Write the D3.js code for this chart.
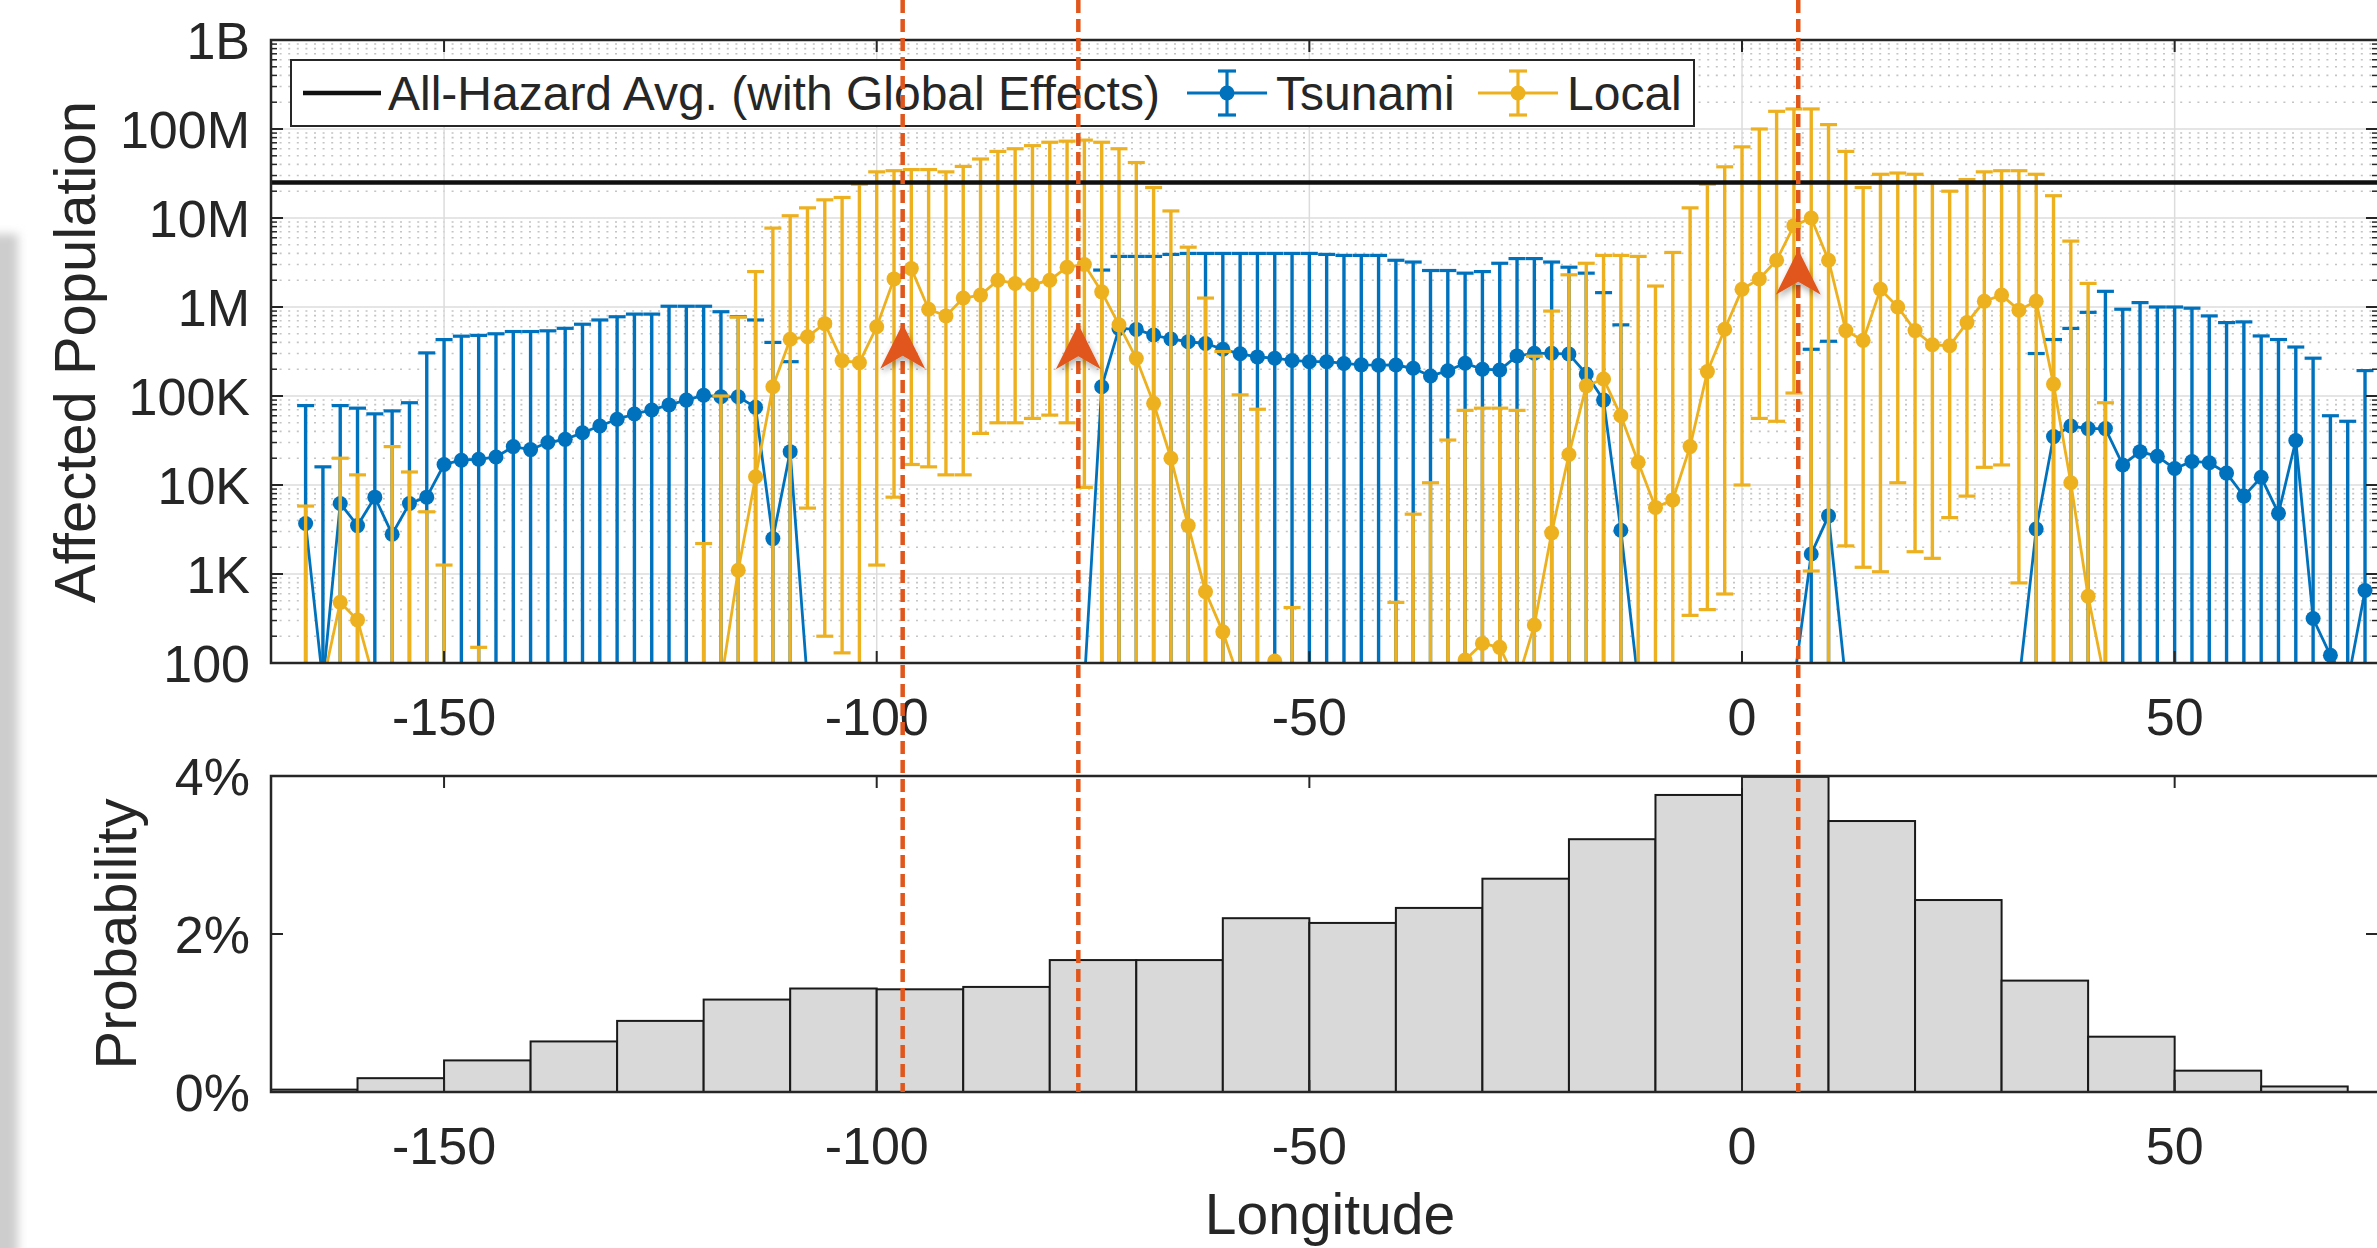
<!DOCTYPE html>
<html>
<head>
<meta charset="utf-8">
<script src="https://cdn.jsdelivr.net/npm/d3@7"></script>
<style>
  html, body { margin: 0; padding: 0; background: #fff; }
  svg { display: block; }
  text { font-family: "Liberation Sans", Arial, Helvetica, sans-serif; fill: #262626; }
</style>
</head>
<body>
<div id="chart"></div>
<script>
// Longitude of every sample (degrees)
var lon = [-166,-164,-162,-160,-158,-156,-154,-152,-150,-148,-146,-144,-142,-140,-138,-136,-134,-132,-130,-128,
  -126,-124,-122,-120,-118,-116,-114,-112,-110,-108,-106,-104,-102,-100,-98,-96,-94,-92,-90,-88,
  -86,-84,-82,-80,-78,-76,-74,-72,-70,-68,-66,-64,-62,-60,-58,-56,-54,-52,-50,-48,
  -46,-44,-42,-40,-38,-36,-34,-32,-30,-28,-26,-24,-22,-20,-18,-16,-14,-12,-10,-8,
  -6,-4,-2,0,2,4,6,8,10,12,14,16,18,20,22,24,26,28,30,32,
  34,36,38,40,42,44,46,48,50,52,54,56,58,60,62,64,66,68,70,72];

// Tsunami: mean, upper and lower bound (values under 100 sit below the axis)
var tsuMean = [3700,60,6200,3500,7300,2800,6200,7300,17000,19000,19500,20600,27000,25000,30000,32600,38700,46000,54700,62800,
  69700,79400,90000,102000,98000,98000,74600,2500,23700,60,60,60,60,60,60,60,60,60,60,60,
  60,60,60,60,60,60,127000,575000,560000,484000,437000,407000,389000,335000,298000,275000,266000,251000,243000,243000,
  232000,224000,222000,223000,205000,168000,192000,233000,200000,196000,282000,302000,302000,296000,177000,90000,3100,60,60,60,
  60,60,60,60,60,60,60,1680,4500,60,60,60,60,60,60,60,60,60,60,60,
  3200,35000,46000,43000,43000,16800,23700,21000,15300,18400,17800,13600,7500,12200,4800,31600,316,122,60,653];
var tsuUp = [78000,16000,78000,73000,63000,68000,84000,305000,430000,470000,480000,500000,530000,530000,540000,576000,640000,715000,777000,832000,
  832000,1020000,1020000,1020000,885000,780000,715000,400000,243000,60,60,60,60,60,60,60,60,60,60,60,
  60,60,60,60,60,60,2600000,3700000,3700000,3700000,3900000,4000000,4000000,4000000,4000000,4000000,4000000,4000000,4000000,3900000,
  3800000,3800000,3800000,3350000,3200000,2570000,2570000,2400000,2500000,3100000,3500000,3500000,3200000,2800000,2400000,1450000,630000,60,60,60,
  60,60,60,60,60,60,60,335000,412000,60,60,60,60,60,60,60,60,60,60,60,
  300000,431000,575000,871000,1500000,944000,1120000,1000000,1000000,970000,794000,668000,680000,473000,431000,355000,266000,60000,52000,193000];
var tsuLow = [1,1,1,1,1,1,1,1,1,1,1,1,1,1,1,1,1,1,1,1,
  1,1,1,1,1,1,1,1,1,1,1,1,1,1,1,1,1,1,1,1,
  1,1,1,1,1,1,1,1,1,1,1,1,1,1,1,1,1,1,1,1,
  1,1,1,1,1,1,1,1,1,1,1,1,1,1,1,1,1,1,1,1,
  1,1,1,1,1,1,1,1,1,1,1,1,1,1,1,1,1,1,1,1,
  1,1,1,1,1,1,1,1,1,1,1,1,1,1,1,1,1,1,1,1];

// Local: mean, upper and lower bound
var locMean = [60,60,480,305,60,60,60,60,60,60,60,60,60,60,60,60,60,60,60,60,
  60,60,60,60,60,1100,12400,127000,434000,464000,650000,250000,237000,600000,2070000,2700000,945000,794000,1260000,1360000,
  2000000,1840000,1780000,2000000,2800000,3000000,1480000,630000,264000,83000,20000,3500,631,224,60,60,105,60,60,60,
  60,60,60,60,60,60,60,108,166,150,60,267,2900,22000,130000,155000,60000,18000,5600,6800,
  27000,188000,562000,1580000,2070000,3350000,8200000,10000000,3350000,543000,422000,1580000,1000000,543000,376000,367000,668000,1160000,1360000,922000,
  1160000,136000,10600,562,60,60,60,60,60,60,60,60,60,60,60,60,60,60,60,60];
var locUp = [5800,60,20000,13000,60,27000,14000,5000,1260,60,150,60,60,60,60,60,60,60,60,60,
  60,60,60,2200,100000,770000,2500000,7700000,10600000,13000000,16000000,17000000,24000000,33000000,34000000,35000000,35000000,33000000,38000000,46000000,
  56000000,60000000,65000000,71000000,73000000,75000000,71000000,60000000,42000000,22000000,12000000,4700000,1260000,316000,103000,71000,105,420,60,60,
  60,60,60,480,4700,10600,32000,69000,73000,73000,69000,280000,900000,2300000,3100000,3800000,3800000,3700000,1720000,4100000,
  13000000,24000000,37600000,63000000,100000000,158000000,168000000,168000000,112000000,56000000,22000000,31000000,32000000,31000000,25000000,20000000,27000000,33000000,34000000,34000000,
  31000000,17800000,5500000,1840000,84000,60,60,60,60,60,60,60,60,60,60,60,60,60,60,60];
var locLow = [1,1,1,1,1,1,1,1,1,1,1,1,1,1,1,1,1,1,1,1,
  1,1,1,1,1,1,1,1,1,5500,200,130,1,1260,7300,17000,16000,13000,13000,38000,
  50000,50000,56000,61000,50000,9400,1,1,1,1,1,1,1,1,1,1,1,1,1,1,
  1,1,1,1,1,1,1,1,1,1,1,1,1,1,1,1,1,1,1,1,
  343,398,596,10000,56000,52000,108000,1080,1,2070,1190,1060,10600,1780,1500,4300,7500,15800,16800,794,
  1,1,1,1,1,1,1,1,1,1,1,1,1,1,1,1,1,1,1,1];

var allHazardAvg = 25000000;

// Histogram of longitude (percent per 10-degree bin)
var histEdges = [-170,-160,-150,-140,-130,-120,-110,-100,-90,-80,-70,-60,-50,-40,-30,-20,-10,0,10,20,30,40,50,60,70];
var histProb = [0.03,0.175,0.40,0.64,0.90,1.17,1.31,1.30,1.33,1.67,1.67,2.20,2.14,2.33,2.70,3.20,3.76,3.99,3.43,2.43,1.41,0.70,0.27,0.07];

// Marked longitudes (dashed lines) and the arrow tips
var markLon = [-97, -76.7, 6.5];
var arrowTip = [650000, 640000, 4400000];

// Ticks
var xTicks = [-150, -100, -50, 0, 50];
var yTopTicks = [1e2, 1e3, 1e4, 1e5, 1e6, 1e7, 1e8, 1e9];
var yTopLabels = ["100", "1K", "10K", "100K", "1M", "10M", "100M", "1B"];
var yBotTicks = [0, 2, 4];
var yBotLabels = ["0%", "2%", "4%"];

var W = 2377, H = 1248;
var blue = "#0072BD", gold = "#EDB120", red = "#E0561B", ink = "#262626";

var svg = d3.select("#chart").append("svg")
    .attr("width", W)
    .attr("height", H);

var defs = svg.append("defs");
defs.append("clipPath").attr("id", "plotClip")
    .append("rect").attr("x", 271).attr("y", 40).attr("width", 2108).attr("height", 623);
defs.append("filter").attr("id", "soft")
    .attr("x", "-50%").attr("y", "-10%").attr("width", "200%").attr("height", "120%")
    .append("feGaussianBlur").attr("stdDeviation", 5);
var shadow = defs.append("filter").attr("id", "arrowShadow")
    .attr("x", "-50%").attr("y", "-50%").attr("width", "200%").attr("height", "200%");
shadow.append("feDropShadow").attr("dx", 1).attr("dy", 4).attr("stdDeviation", 3)
    .attr("flood-color", "#000").attr("flood-opacity", 0.3);

// grey strip at the left edge of the screenshot
svg.append("rect")
    .attr("x", -30).attr("y", 234).attr("width", 48).attr("height", H)
    .attr("fill", "#cdcdcd")
    .attr("filter", "url(#soft)");

// Scales
var x = d3.scaleLinear().domain([-170, 73.5]).range([271, 2378]);
var yTop = d3.scaleLog().domain([100, 1e9]).range([663, 40]);
var yBot = d3.scaleLinear().domain([0, 4]).range([1092, 776]);

// ---------- Top panel ----------
var topG = svg.append("g");

// minor grid (dotted)
var minorVals = [];
for (var e = 2; e < 9; e++) {
    for (var k = 2; k <= 9; k++) minorVals.push(k * Math.pow(10, e));
}
topG.selectAll("minorGrid")
    .data(minorVals)
    .enter()
    .append("line")
    .attr("x1", 271).attr("x2", 2378)
    .attr("y1", d => yTop(d)).attr("y2", d => yTop(d))
    .attr("stroke", "#c4c4c4")
    .attr("stroke-width", 1.6)
    .attr("stroke-dasharray", "2,6.6");

// major grid
topG.selectAll("majorGridY")
    .data(yTopTicks)
    .enter()
    .append("line")
    .attr("x1", 271).attr("x2", 2378)
    .attr("y1", d => yTop(d)).attr("y2", d => yTop(d))
    .attr("stroke", "#dcdcdc")
    .attr("stroke-width", 1.5);
topG.selectAll("majorGridX")
    .data(xTicks)
    .enter()
    .append("line")
    .attr("x1", d => x(d)).attr("x2", d => x(d))
    .attr("y1", 40).attr("y2", 663)
    .attr("stroke", "#dcdcdc")
    .attr("stroke-width", 1.5);

var dataG = topG.append("g").attr("clip-path", "url(#plotClip)");

function drawSeries(g, mean, low, up, color) {
    var pts = lon.map((L, i) => ({L: L, m: mean[i], lo: low[i], hi: up[i]}));
    var capW = 17;

    // error bars
    g.selectAll("bar")
        .data(pts)
        .enter()
        .append("line")
        .attr("x1", d => x(d.L)).attr("x2", d => x(d.L))
        .attr("y1", d => yTop(d.lo)).attr("y2", d => yTop(d.hi))
        .attr("stroke", color)
        .attr("stroke-width", 3.4);

    // caps
    g.selectAll("capUp")
        .data(pts.filter(d => d.hi > d.m))
        .enter()
        .append("line")
        .attr("x1", d => x(d.L) - capW / 2).attr("x2", d => x(d.L) + capW / 2)
        .attr("y1", d => yTop(d.hi)).attr("y2", d => yTop(d.hi))
        .attr("stroke", color)
        .attr("stroke-width", 3.2);
    g.selectAll("capLow")
        .data(pts.filter(d => d.lo > 1))
        .enter()
        .append("line")
        .attr("x1", d => x(d.L) - capW / 2).attr("x2", d => x(d.L) + capW / 2)
        .attr("y1", d => yTop(d.lo)).attr("y2", d => yTop(d.lo))
        .attr("stroke", color)
        .attr("stroke-width", 3.2);

    // connecting line
    g.append("path")
        .datum(pts)
        .attr("d", d3.line().x(d => x(d.L)).y(d => yTop(d.m)))
        .attr("fill", "none")
        .attr("stroke", color)
        .attr("stroke-width", 2.8);

    // markers
    g.selectAll("marker")
        .data(pts)
        .enter()
        .append("circle")
        .attr("cx", d => x(d.L))
        .attr("cy", d => yTop(d.m))
        .attr("r", 7.5)
        .attr("fill", color);
}

drawSeries(dataG.append("g"), tsuMean, tsuLow, tsuUp, blue);
drawSeries(dataG.append("g"), locMean, locLow, locUp, gold);

// all-hazard average
dataG.append("line")
    .attr("x1", 271).attr("x2", 2378)
    .attr("y1", yTop(allHazardAvg)).attr("y2", yTop(allHazardAvg))
    .attr("stroke", "#111")
    .attr("stroke-width", 4.5);

// frame and ticks
topG.append("rect")
    .attr("x", 271).attr("y", 40).attr("width", 2108).attr("height", 623)
    .attr("fill", "none").attr("stroke", ink).attr("stroke-width", 2.5);

topG.selectAll("xTickB").data(xTicks).enter().append("line")
    .attr("x1", d => x(d)).attr("x2", d => x(d)).attr("y1", 663).attr("y2", 651)
    .attr("stroke", ink).attr("stroke-width", 2);
topG.selectAll("xTickT").data(xTicks).enter().append("line")
    .attr("x1", d => x(d)).attr("x2", d => x(d)).attr("y1", 40).attr("y2", 52)
    .attr("stroke", ink).attr("stroke-width", 2);
topG.selectAll("yTickL").data(yTopTicks).enter().append("line")
    .attr("x1", 271).attr("x2", 283).attr("y1", d => yTop(d)).attr("y2", d => yTop(d))
    .attr("stroke", ink).attr("stroke-width", 2);
topG.selectAll("yTickR").data(yTopTicks).enter().append("line")
    .attr("x1", 2378).attr("x2", 2366).attr("y1", d => yTop(d)).attr("y2", d => yTop(d))
    .attr("stroke", ink).attr("stroke-width", 2);
topG.selectAll("yMinorL").data(minorVals).enter().append("line")
    .attr("x1", 271).attr("x2", 277).attr("y1", d => yTop(d)).attr("y2", d => yTop(d))
    .attr("stroke", ink).attr("stroke-width", 1.5);
topG.selectAll("yMinorR").data(minorVals).enter().append("line")
    .attr("x1", 2378).attr("x2", 2372).attr("y1", d => yTop(d)).attr("y2", d => yTop(d))
    .attr("stroke", ink).attr("stroke-width", 1.5);

topG.selectAll("xLabel").data(xTicks).enter().append("text")
    .attr("x", d => x(d)).attr("y", 735)
    .attr("text-anchor", "middle")
    .style("font-size", "52px")
    .text(d => d);
topG.selectAll("yLabel").data(yTopTicks).enter().append("text")
    .attr("x", 250).attr("y", d => yTop(d))
    .attr("dy", "0.36em")
    .attr("text-anchor", "end")
    .style("font-size", "52px")
    .text((d, i) => yTopLabels[i]);

svg.append("text")
    .attr("transform", "translate(95,352) rotate(-90)")
    .attr("text-anchor", "middle")
    .style("font-size", "58px")
    .text("Affected Population");

// legend
var lg = svg.append("g");
lg.append("rect")
    .attr("x", 291).attr("y", 60).attr("width", 1403).attr("height", 66)
    .attr("fill", "#fff").attr("stroke", ink).attr("stroke-width", 2);
lg.append("line").attr("x1", 303).attr("x2", 381).attr("y1", 93).attr("y2", 93)
    .attr("stroke", "#111").attr("stroke-width", 4.5);
lg.append("text").attr("x", 388).attr("y", 93).attr("dy", "0.36em")
    .style("font-size", "48px").text("All-Hazard Avg. (with Global Effects)");

var legItems = [{name: "Tsunami", color: blue, x0: 1187}, {name: "Local", color: gold, x0: 1478}];
legItems.forEach(function(it) {
    var cx = it.x0 + 40;
    lg.append("line").attr("x1", it.x0).attr("x2", it.x0 + 80).attr("y1", 93).attr("y2", 93)
        .attr("stroke", it.color).attr("stroke-width", 2.8);
    lg.append("line").attr("x1", cx).attr("x2", cx).attr("y1", 71).attr("y2", 115)
        .attr("stroke", it.color).attr("stroke-width", 3.2);
    lg.append("line").attr("x1", cx - 9).attr("x2", cx + 9).attr("y1", 71).attr("y2", 71)
        .attr("stroke", it.color).attr("stroke-width", 3.2);
    lg.append("line").attr("x1", cx - 9).attr("x2", cx + 9).attr("y1", 115).attr("y2", 115)
        .attr("stroke", it.color).attr("stroke-width", 3.2);
    lg.append("circle").attr("cx", cx).attr("cy", 93).attr("r", 7.5).attr("fill", it.color);
    lg.append("text").attr("x", it.x0 + 89).attr("y", 93).attr("dy", "0.36em")
        .style("font-size", "48px").text(it.name);
});

// ---------- Bottom panel ----------
var botG = svg.append("g");

botG.selectAll("histBar")
    .data(histProb)
    .enter()
    .append("rect")
    .attr("x", (d, i) => x(histEdges[i]))
    .attr("width", (d, i) => x(histEdges[i + 1]) - x(histEdges[i]))
    .attr("y", d => yBot(d))
    .attr("height", d => yBot(0) - yBot(d))
    .attr("fill", "#d9d9d9")
    .attr("stroke", "#1a1a1a")
    .attr("stroke-width", 2);

botG.append("rect")
    .attr("x", 271).attr("y", 776).attr("width", 2108).attr("height", 316)
    .attr("fill", "none").attr("stroke", ink).attr("stroke-width", 2.5);

botG.selectAll("xTickB").data(xTicks).enter().append("line")
    .attr("x1", d => x(d)).attr("x2", d => x(d)).attr("y1", 1092).attr("y2", 1080)
    .attr("stroke", ink).attr("stroke-width", 2);
botG.selectAll("xTickT").data(xTicks).enter().append("line")
    .attr("x1", d => x(d)).attr("x2", d => x(d)).attr("y1", 776).attr("y2", 788)
    .attr("stroke", ink).attr("stroke-width", 2);
botG.selectAll("yTickL").data(yBotTicks).enter().append("line")
    .attr("x1", 271).attr("x2", 283).attr("y1", d => yBot(d)).attr("y2", d => yBot(d))
    .attr("stroke", ink).attr("stroke-width", 2);
botG.selectAll("yTickR").data(yBotTicks).enter().append("line")
    .attr("x1", 2378).attr("x2", 2366).attr("y1", d => yBot(d)).attr("y2", d => yBot(d))
    .attr("stroke", ink).attr("stroke-width", 2);

botG.selectAll("xLabel").data(xTicks).enter().append("text")
    .attr("x", d => x(d)).attr("y", 1164)
    .attr("text-anchor", "middle")
    .style("font-size", "52px")
    .text(d => d);
botG.selectAll("yLabel").data(yBotTicks).enter().append("text")
    .attr("x", 250).attr("y", d => yBot(d))
    .attr("dy", "0.36em")
    .attr("text-anchor", "end")
    .style("font-size", "52px")
    .text((d, i) => yBotLabels[i]);

svg.append("text")
    .attr("transform", "translate(136,934) rotate(-90)")
    .attr("text-anchor", "middle")
    .style("font-size", "58px")
    .text("Probability");
svg.append("text")
    .attr("x", 1330).attr("y", 1234)
    .attr("text-anchor", "middle")
    .style("font-size", "57px")
    .text("Longitude");

// ---------- Marked longitudes ----------
svg.selectAll("markLine")
    .data(markLon)
    .enter()
    .append("line")
    .attr("x1", d => x(d)).attr("x2", d => x(d))
    .attr("y1", 0).attr("y2", yBot(0))
    .attr("stroke", red)
    .attr("stroke-width", 4.5)
    .attr("stroke-dasharray", "13,6");

svg.selectAll("markArrow")
    .data(markLon)
    .enter()
    .append("path")
    .attr("transform", (d, i) => "translate(" + x(d) + "," + yTop(arrowTip[i]) + ")")
    .attr("d", "M0,0 L22.5,45 L0,32 L-22.5,45 Z")
    .attr("fill", red)
    .attr("filter", "url(#arrowShadow)");
</script>
</body>
</html>
